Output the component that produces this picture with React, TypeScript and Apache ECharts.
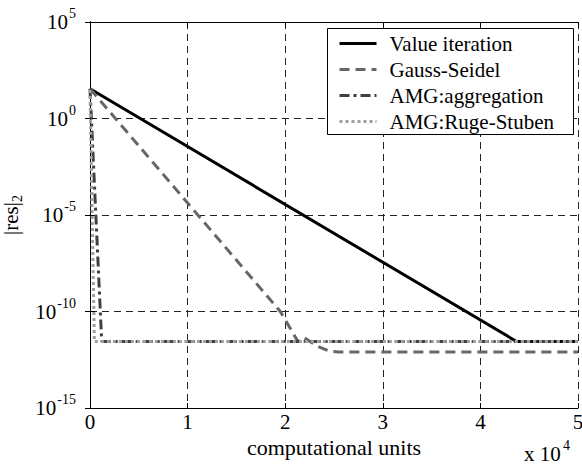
import React, { useEffect, useRef } from "react";
import * as echarts from "echarts";

const seriesNames = ["Value iteration", "Gauss-Seidel", "AMG:aggregation", "AMG:Ruge-Stuben"];
const valueIteration: [number, number][] = [[0, 35], [43700, 2.8e-12], [50000, 2.8e-12]];
const gaussSeidel: [number, number][] = [
  [0, 35], [19500, 1e-10], [21300, 2.8e-12], [21900, 4.5e-12], [23300, 1.6e-12],
  [24500, 9e-13], [25500, 8e-13], [50000, 8e-13],
];
const amgAggregation: [number, number][] = [[0, 35], [1200, 2.8e-12], [50000, 2.8e-12]];
const amgRugeStuben: [number, number][] = [[0, 30], [450, 2.8e-12], [50000, 2.8e-12]];
const xTicks = [0, 1, 2, 3, 4, 5];

const FONT = "Liberation Serif";
const FS = 21;

export default function App() {
  const ref = useRef<HTMLDivElement>(null);
  useEffect(() => {
    if (!ref.current) return;
    const chart = echarts.init(ref.current, undefined, { renderer: "svg" });
    const supRich = {
      b: { fontSize: FS, fontFamily: FONT, color: "#000" },
      s: { fontSize: 14, fontFamily: FONT, color: "#000", padding: [0, 0, 17, 1] },
    };
    const gridLine = { show: true, lineStyle: { color: "#222", width: 1, type: [7, 5] as any } };
    const frameAxis = {
      axisLine: { show: true, lineStyle: { color: "#000", width: 1 } },
      axisTick: { show: true, inside: true, length: 5, lineStyle: { color: "#000" } },
      axisLabel: { show: false },
      splitLine: { show: false },
      minorTick: { show: false },
    };
    chart.setOption({
      animation: false,
      backgroundColor: "#fff",
      textStyle: { fontFamily: FONT, fontSize: FS, color: "#000" },
      grid: {
        left: 90, right: 4, top: 22, bottom: 58,
        containLabel: false,
        outerBoundsMode: "none",
      },
      xAxis: [
        {
          type: "value",
          min: 0,
          max: 50000,
          interval: 10000,
          name: "computational units",
          nameLocation: "middle",
          nameGap: 23,
          nameTextStyle: { fontSize: 22, fontFamily: FONT, color: "#000" },
          axisLine: { show: true, lineStyle: { color: "#000", width: 1 } },
          axisTick: { show: true, inside: true, length: 5, lineStyle: { color: "#000" } },
          axisLabel: {
            fontSize: FS, fontFamily: FONT, color: "#000", margin: 3,
            formatter: (v: number) => String(xTicks[Math.round(v / 10000)]),
          },
          splitLine: gridLine,
        },
        { type: "value", position: "top", min: 0, max: 50000, interval: 10000, ...frameAxis },
      ],
      yAxis: [
        {
          type: "log",
          logBase: 10,
          min: 1e-15,
          max: 1e5,
          interval: 5,
          name: "{a||res|}{s|2}",
          nameLocation: "middle",
          nameGap: 57,
          nameRotate: 90,
          nameTextStyle: {
            fontFamily: FONT,
            fontSize: FS,
            rich: {
              a: { fontSize: FS, fontFamily: FONT, color: "#000" },
              s: { fontSize: 14, fontFamily: FONT, color: "#000", padding: [12, 0, 0, 0] },
            },
          },
          axisLine: { show: true, lineStyle: { color: "#000", width: 1 } },
          axisTick: { show: true, inside: true, length: 5, lineStyle: { color: "#000" } },
          minorTick: { show: false },
          axisLabel: {
            margin: 14,
            fontFamily: FONT,
            fontSize: FS,
            formatter: (v: number) => `{b|10}{s|${Math.round(Math.log10(v))}}`,
            rich: supRich,
          },
          splitLine: gridLine,
        },
        { type: "log", logBase: 10, position: "right", min: 1e-15, max: 1e5, interval: 5, ...frameAxis },
      ],
      legend: {
        orient: "vertical",
        left: 338,
        top: 33,
        itemWidth: 37,
        itemHeight: 16,
        itemGap: 5,
        padding: 0,
        itemStyle: { opacity: 0 },
        lineStyle: { width: 3 },
        textStyle: { fontSize: FS, fontFamily: FONT, color: "#000", padding: [0, 0, 0, 8] },
        data: seriesNames,
        z: 10,
      },
      graphic: [
        {
          type: "rect",
          z: 5,
          shape: { x: 327.5, y: 28.5, width: 246, height: 106 },
          style: { fill: "#fff", stroke: "#000", lineWidth: 1 },
        },
        {
          type: "text",
          left: 524,
          top: 443,
          style: { text: "x 10", fontFamily: FONT, fontSize: FS, fill: "#000" },
        },
        {
          type: "text",
          left: 563,
          top: 438,
          style: { text: "4", fontFamily: FONT, fontSize: 14, fill: "#000" },
        },
      ],
      series: [
        {
          name: seriesNames[0], type: "line", data: valueIteration, symbol: "none",
          lineStyle: { color: "#000", width: 3, type: "solid" }, itemStyle: { color: "#000" },
        },
        {
          name: seriesNames[1], type: "line", data: gaussSeidel, symbol: "none",
          lineStyle: { color: "#666", width: 3, type: [10, 6] }, itemStyle: { color: "#666" },
        },
        {
          name: seriesNames[2], type: "line", data: amgAggregation, symbol: "none",
          lineStyle: { color: "#404040", width: 3, type: [10, 4, 3, 4] }, itemStyle: { color: "#404040" },
        },
        {
          name: seriesNames[3], type: "line", data: amgRugeStuben, symbol: "none",
          lineStyle: { color: "#a0a0a0", width: 3, type: [3, 3] }, itemStyle: { color: "#a0a0a0" },
        },
      ],
    });
    return () => chart.dispose();
  }, []);
  return (
    <div
      ref={ref}
      style={{ position: "fixed", left: 0, top: 0, width: 582, height: 466, background: "#fff" }}
    />
  );
}
